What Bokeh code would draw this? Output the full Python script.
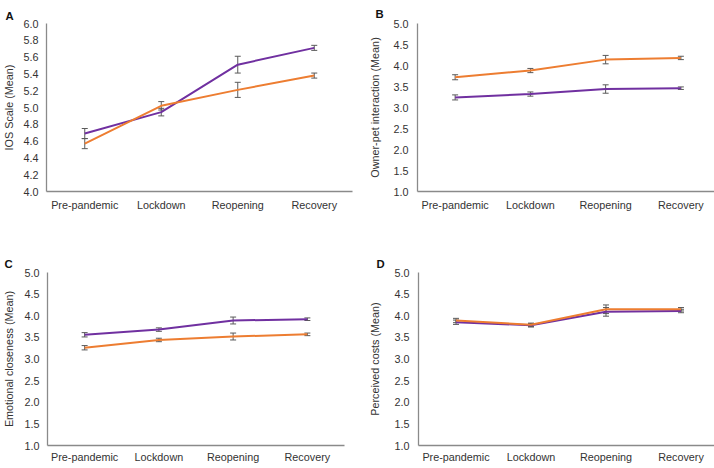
from bokeh.plotting import figure
from bokeh.models import Range1d, FixedTicker, NumeralTickFormatter, Whisker, TeeHead, ColumnDataSource
from bokeh.layouts import column, row
from bokeh.embed import file_html
from bokeh.resources import INLINE

phases = ["Pre-pandemic", "Lockdown", "Reopening", "Recovery"]

# Panel A: IOS Scale
ios_purple = [4.69, 4.945, 5.51, 5.71]
ios_purple_err = [0.06, 0.045, 0.10, 0.03]
ios_orange = [4.57, 5.02, 5.21, 5.38]
ios_orange_err = [0.06, 0.05, 0.09, 0.03]

# Panel B: Owner-pet interaction
inter_purple = [3.24, 3.32, 3.44, 3.46]
inter_purple_err = [0.06, 0.05, 0.10, 0.03]
inter_orange = [3.72, 3.88, 4.14, 4.18]
inter_orange_err = [0.06, 0.05, 0.10, 0.04]

# Panel C: Emotional closeness
close_purple = [3.56, 3.68, 3.89, 3.92]
close_purple_err = [0.05, 0.04, 0.08, 0.03]
close_orange = [3.26, 3.44, 3.52, 3.57]
close_orange_err = [0.05, 0.04, 0.08, 0.03]

# Panel D: Perceived costs
cost_purple = [3.85, 3.78, 4.09, 4.11]
cost_purple_err = [0.05, 0.04, 0.10, 0.04]
cost_orange = [3.89, 3.79, 4.15, 4.15]
cost_orange_err = [0.05, 0.04, 0.10, 0.04]

PURPLE = "#7030A0"
ORANGE = "#ED7D31"
ERR = "#5a5a5a"
AXIS = "#8a8a8a"
FONT = "Liberation Sans"
FS = "10.8px"


def panel(letter, ylabel, ymin, ymax, step, series, w, h, bl, br, bt, bb,
          toff, tstand, ystand, ylstand, xstand):
    p = figure(x_range=phases, y_range=Range1d(ymin, ymax), width=w, height=h,
               output_backend="svg", toolbar_location=None,
               min_border_left=bl, min_border_right=br, min_border_top=bt, min_border_bottom=bb)
    p.outline_line_color = None
    p.xgrid.visible = False
    p.ygrid.visible = False
    ticks = []
    v = ymin
    while v <= ymax + 1e-9:
        ticks.append(round(v, 2))
        v += step
    p.yaxis.ticker = FixedTicker(ticks=ticks)
    p.yaxis.formatter = NumeralTickFormatter(format="0.0")
    for ax in (p.xaxis, p.yaxis):
        ax.axis_line_color = AXIS
        ax.axis_line_width = 1.3
        ax.major_tick_line_color = None
        ax.minor_tick_line_color = None
        ax.major_tick_out = 0
        ax.major_tick_in = 0
        ax.minor_tick_out = 0
        ax.minor_tick_in = 0
        ax.major_label_text_font = FONT
        ax.major_label_text_font_size = FS
        ax.major_label_text_color = "#333333"
    p.xaxis.major_label_standoff = xstand
    p.yaxis.major_label_standoff = ystand
    p.yaxis.axis_label = ylabel
    p.yaxis.axis_label_text_font = FONT
    p.yaxis.axis_label_text_font_size = FS
    p.yaxis.axis_label_text_font_style = "normal"
    p.yaxis.axis_label_text_color = "#333333"
    p.yaxis.axis_label_standoff = ylstand

    p.title.text = letter
    p.title.text_font = FONT
    p.title.text_font_size = "11.3px"
    p.title.text_font_style = "bold"
    p.title.text_color = "#111111"
    p.title.align = "left"
    p.title.offset = toff
    p.title.standoff = tstand

    for vals, errs, color in series:
        src = ColumnDataSource(dict(x=phases, y=vals,
                                    lo=[a - b for a, b in zip(vals, errs)],
                                    hi=[a + b for a, b in zip(vals, errs)]))
        p.line("x", "y", source=src, line_color=color, line_width=2)
        wk = Whisker(base="x", lower="lo", upper="hi", source=src, line_color=ERR, line_width=1,
                     upper_head=TeeHead(size=6, line_color=ERR, line_width=1),
                     lower_head=TeeHead(size=6, line_color=ERR, line_width=1))
        p.add_layout(wk)
    return p


pA = panel("A", "IOS Scale (Mean)", 4.0, 6.0, 0.2,
           [(ios_purple, ios_purple_err, PURPLE), (ios_orange, ios_orange_err, ORANGE)],
           358, 232, 41, 6, 17, 41, -41, 3, 8, 5, 7)
pB = panel("B", "Owner-pet interaction (Mean)", 1.0, 5.0, 0.5,
           [(inter_purple, inter_purple_err, PURPLE), (inter_orange, inter_orange_err, ORANGE)],
           360, 232, 59, 0, 23, 37, -42, 8, 9, 9, 7)
pC = panel("C", "Emotional closeness (Mean)", 1.0, 5.0, 0.5,
           [(close_purple, close_purple_err, PURPLE), (close_orange, close_orange_err, ORANGE)],
           358, 233, 43, 14, 40, 18, -43, 6, 8, 6, 5)
pD = panel("D", "Perceived costs (Mean)", 1.0, 5.0, 0.5,
           [(cost_purple, cost_purple_err, PURPLE), (cost_orange, cost_orange_err, ORANGE)],
           360, 233, 60, 0, 38, 18, -42, 5, 9, 10, 5)

layout = column(row(pA, pB), row(pC, pD))
open("out.html", "w").write(file_html(layout, INLINE))
